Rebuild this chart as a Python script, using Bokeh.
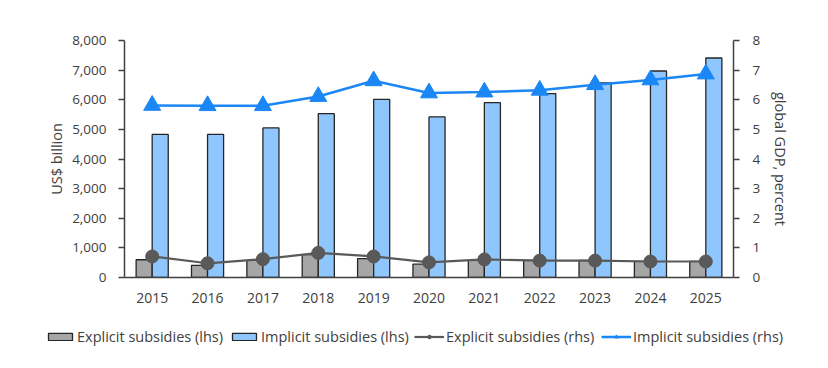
from bokeh.plotting import figure
from bokeh.models import (ColumnDataSource, FactorRange, Range1d, LinearAxis,
                          Legend, LegendItem, NumeralTickFormatter, FixedTicker)
from bokeh.layouts import column, row
from bokeh.transform import dodge
from bokeh.embed import file_html
from bokeh.resources import INLINE

years = ["2015", "2016", "2017", "2018", "2019", "2020", "2021", "2022", "2023", "2024", "2025"]
explicit_lhs = [600, 410, 575, 770, 640, 450, 575, 575, 575, 545, 545]
implicit_lhs = [4830, 4830, 5050, 5530, 6010, 5420, 5900, 6210, 6570, 6970, 7410]
explicit_rhs = [0.71, 0.48, 0.62, 0.83, 0.71, 0.51, 0.61, 0.57, 0.57, 0.54, 0.54]
implicit_rhs = [5.81, 5.80, 5.80, 6.11, 6.64, 6.23, 6.26, 6.32, 6.51, 6.67, 6.87]
legend_labels = ["Explicit subsidies (lhs)", "Implicit subsidies (lhs)",
                 "Explicit subsidies (rhs)", "Implicit subsidies (rhs)"]

src = ColumnDataSource(dict(year=years, el=explicit_lhs, il=implicit_lhs,
                            er=explicit_rhs, ir=implicit_rhs))

FONT = "Open Sans"
TXT = "#404040"
GRAY_FILL, BLUE_FILL, EDGE = "#a6a6a6", "#8fc6fd", "#262626"
DARK, BLUE = "#595959", "#1a87f5"

p = figure(width=812, height=306, x_range=FactorRange(*years, range_padding=0),
           y_range=Range1d(0, 8000), output_backend="svg", toolbar_location=None,
           min_border_left=124, min_border_right=79, min_border_top=40, min_border_bottom=29)
p.extra_y_ranges = {"rhs": Range1d(0, 8)}
p.outline_line_color = None
p.grid.grid_line_color = None

bw = 0.29
p.vbar(x=dodge("year", -0.145, range=p.x_range), top="el", width=bw, source=src,
       fill_color=GRAY_FILL, line_color=EDGE, line_width=1.3)
p.vbar(x=dodge("year", 0.145, range=p.x_range), top="il", width=bw, source=src,
       fill_color=BLUE_FILL, line_color=EDGE, line_width=1.3)
p.line(x="year", y="er", source=src, y_range_name="rhs", line_color=DARK, line_width=2.2)
p.scatter(x="year", y="er", source=src, y_range_name="rhs", marker="circle", size=13,
          fill_color=DARK, line_color=DARK)
p.line(x="year", y="ir", source=src, y_range_name="rhs", line_color=BLUE, line_width=2.5)
p.scatter(x="year", y="ir", source=src, y_range_name="rhs", marker="triangle", size=17,
          fill_color=BLUE, line_color=BLUE)

ya = p.yaxis[0]
ya.ticker = FixedTicker(ticks=list(range(0, 8001, 1000)))
ya.formatter = NumeralTickFormatter(format="0,0")
ya.axis_label = "US$ billion"

ra = LinearAxis(y_range_name="rhs", ticker=FixedTicker(ticks=list(range(0, 9))),
                axis_label="global GDP, percent")
p.add_layout(ra, "right")

for ax in [ya, ra]:
    ax.axis_line_color = "#404040"
    ax.axis_line_width = 1.5
    ax.major_tick_line_color = "#404040"
    ax.major_tick_line_width = 1.3
    ax.major_tick_out = 6
    ax.major_tick_in = 0
    ax.minor_tick_line_color = None
    ax.major_label_text_font = FONT
    ax.major_label_text_font_size = "13.5px"
    ax.major_label_text_color = TXT
    ax.axis_label_text_font = FONT
    ax.axis_label_text_font_size = "14.5px"
    ax.axis_label_text_font_style = "normal"
    ax.axis_label_text_color = TXT
ya.major_label_standoff = 12
ya.axis_label_standoff = 3
ra.major_label_standoff = 13
ra.axis_label_standoff = 8

xa = p.xaxis[0]
xa.axis_line_color = "#404040"
xa.axis_line_width = 1.5
xa.major_tick_line_color = None
xa.minor_tick_line_color = None
xa.major_label_text_font = FONT
xa.major_label_text_font_size = "14px"
xa.major_label_text_color = TXT
xa.major_label_standoff = 9

# legend strip (separate figure so the wide legend is not clipped by the frame)
lf = figure(width=812, height=50, x_range=Range1d(0, 1), y_range=Range1d(0, 1),
            output_backend="svg", toolbar_location=None, x_axis_type=None, y_axis_type=None,
            min_border=0)
lf.outline_line_color = None
lf.grid.grid_line_color = None
nan = float("nan")
key = ColumnDataSource(dict(x=[nan], y=[nan]))
r1 = lf.vbar(x="x", top="y", width=0.1, source=key, fill_color=GRAY_FILL, line_color=EDGE, line_width=1.3)
r2 = lf.vbar(x="x", top="y", width=0.1, source=key, fill_color=BLUE_FILL, line_color=EDGE, line_width=1.3)
r3a = lf.line(x="x", y="y", source=key, line_color=DARK, line_width=2.2)
r3b = lf.scatter(x="x", y="y", source=key, marker="circle", size=8, fill_color=DARK, line_color=DARK)
r4a = lf.line(x="x", y="y", source=key, line_color=BLUE, line_width=2.5)
r4b = lf.scatter(x="x", y="y", source=key, marker="triangle", size=9, fill_color=BLUE, line_color=BLUE)

groups = [[r1], [r2], [r3a, r3b], [r4a, r4b]]
starts = [45, 229, 414, 601]
for lab, rs, x0 in zip(legend_labels, groups, starts):
    lg = Legend(items=[LegendItem(label=lab, renderers=rs)], orientation="horizontal",
                location=(x0, 10))
    lg.label_text_font = FONT
    lg.label_text_font_size = "14.5px"
    lg.label_text_color = TXT
    lg.glyph_width = 30
    lg.glyph_height = 9
    lg.label_standoff = 2
    lg.spacing = 0
    lg.padding = 0
    lg.margin = 0
    lg.border_line_color = None
    lg.background_fill_alpha = 0
    lf.add_layout(lg, "center")

layout = column(p, row(lf), spacing=0)
open("out.html", "w").write(file_html(layout, INLINE))
